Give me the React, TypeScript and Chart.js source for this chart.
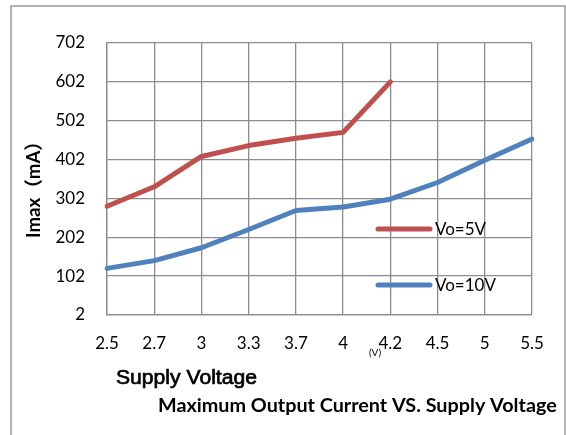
import React, { useEffect, useRef } from "react";
import { Chart, registerables } from "chart.js";

Chart.register(...registerables);

const categories = ["2.5", "2.7", "3", "3.3", "3.7", "4", "4.2", "4.5", "5", "5.5"];
const vo5Values = [282, 332, 410, 438, 457, 472, 602, null, null, null];
const vo10Values = [122, 142, 175, 222, 271, 280, 300, 343, 400, 455];
const yTicks = [2, 102, 202, 302, 402, 502, 602, 702];
const seriesNames = ["Vo=5V", "Vo=10V"];
const seriesColors = ["#C0504D", "#4F81BD"];

const fitFont = (ctx: CanvasRenderingContext2D, text: string, weight: string, family: string, width: number) => {
  ctx.font = `${weight} 20px ${family}`;
  const w = ctx.measureText(text).width;
  const size = (20 * width) / w;
  return `${weight} ${size.toFixed(2)}px ${family}`;
};

const decorPlugin = {
  id: "decor",
  beforeDraw(chart: any) {
    const ctx = chart.ctx as CanvasRenderingContext2D;
    ctx.save();
    ctx.fillStyle = "#ffffff";
    ctx.fillRect(0, 0, chart.width, chart.height);
    ctx.strokeStyle = "#8c8c8c";
    ctx.lineWidth = 1.3;
    ctx.strokeRect(11, 6, 554, 460);
    ctx.restore();
  },
  afterDraw(chart: any) {
    const ctx = chart.ctx as CanvasRenderingContext2D;
    ctx.save();
    // legend
    const legendY = [229, 285];
    seriesNames.forEach((name, i) => {
      ctx.strokeStyle = seriesColors[i];
      ctx.lineWidth = 5;
      ctx.lineCap = "round";
      ctx.beginPath();
      ctx.moveTo(378, legendY[i]);
      ctx.lineTo(430, legendY[i]);
      ctx.stroke();
      ctx.fillStyle = "#000";
      ctx.font = "17px Lato";
      ctx.textAlign = "left";
      ctx.textBaseline = "middle";
      ctx.fillText(name, 435, legendY[i] + 1);
    });
    // y title
    const yTitle = "Imax（mA）";
    ctx.save();
    ctx.translate(34, 185);
    ctx.rotate(-Math.PI / 2);
    ctx.fillStyle = "#000";
    ctx.font = fitFont(ctx, yTitle, "bold", "Lato, 'Noto Sans CJK SC'", 106);
    ctx.textAlign = "center";
    ctx.textBaseline = "middle";
    ctx.fillText(yTitle, 0, 0);
    ctx.restore();
    // unit
    ctx.fillStyle = "#000";
    ctx.font = "10px Lato";
    ctx.textAlign = "center";
    ctx.textBaseline = "middle";
    ctx.fillText("(V)", 375, 353);
    // x title
    ctx.font = fitFont(ctx, "Supply Voltage", "normal", "'Liberation Sans'", 141);
    ctx.textAlign = "left";
    ctx.textBaseline = "alphabetic";
    ctx.strokeStyle = "#000";
    ctx.lineWidth = 0.7;
    ctx.fillText("Supply Voltage", 116, 384);
    ctx.strokeText("Supply Voltage", 116, 384);
    // chart title
    ctx.font = fitFont(ctx, "Maximum Output Current VS. Supply Voltage", "bold", "Lato", 399);
    ctx.textAlign = "left";
    ctx.fillText("Maximum Output Current VS. Supply Voltage", 158, 412);
    ctx.restore();
  },
};

export default function App() {
  const ref = useRef<HTMLCanvasElement>(null);
  useEffect(() => {
    if (!ref.current) return;
    Chart.defaults.font.family = "Lato";
    const gridColor = "#8c8c8c";
    const chart = new Chart(ref.current, {
      type: "line",
      data: {
        labels: categories,
        datasets: [
          {
            label: seriesNames[0],
            data: vo5Values,
            borderColor: seriesColors[0],
            backgroundColor: seriesColors[0],
            borderWidth: 5,
            pointRadius: 0,
            tension: 0,
            borderCapStyle: "round",
            borderJoinStyle: "round",
            spanGaps: false,
          },
          {
            label: seriesNames[1],
            data: vo10Values,
            borderColor: seriesColors[1],
            backgroundColor: seriesColors[1],
            borderWidth: 5,
            pointRadius: 0,
            tension: 0,
            borderCapStyle: "round",
            borderJoinStyle: "round",
          },
        ],
      },
      options: {
        animation: false,
        responsive: false,
        devicePixelRatio: 1,
        layout: { padding: { left: 0, top: 43, right: 34, bottom: 0 } },
        plugins: {
          legend: { display: false },
          title: { display: false },
          tooltip: { enabled: false },
        },
        scales: {
          x: {
            type: "category",
            offset: false,
            grid: { color: gridColor, lineWidth: 1.3, drawTicks: false, offset: false },
            border: { color: gridColor, width: 1.3 },
            ticks: { color: "#000", font: { size: 17, family: "Lato" }, padding: 18, maxRotation: 0, autoSkip: false },
            afterFit: (scale: any) => {
              scale.height = 120;
            },
          },
          y: {
            min: 2,
            max: 702,
            grid: { color: gridColor, lineWidth: 1.3, drawTicks: false },
            border: { color: gridColor, width: 1.3 },
            ticks: { color: "#000", font: { size: 17, family: "Lato" }, padding: 22 },
            afterBuildTicks: (scale: any) => {
              scale.ticks = yTicks.map((v) => ({ value: v }));
            },
            afterFit: (scale: any) => {
              scale.width = 107;
            },
          },
        },
      },
      plugins: [decorPlugin],
    });
    return () => chart.destroy();
  }, []);
  return (
    <div style={{ position: "fixed", left: 0, top: 0, width: 566, height: 435, background: "#fff" }}>
      <canvas ref={ref} width={566} height={435} style={{ width: 566, height: 435, display: "block" }} />
    </div>
  );
}
